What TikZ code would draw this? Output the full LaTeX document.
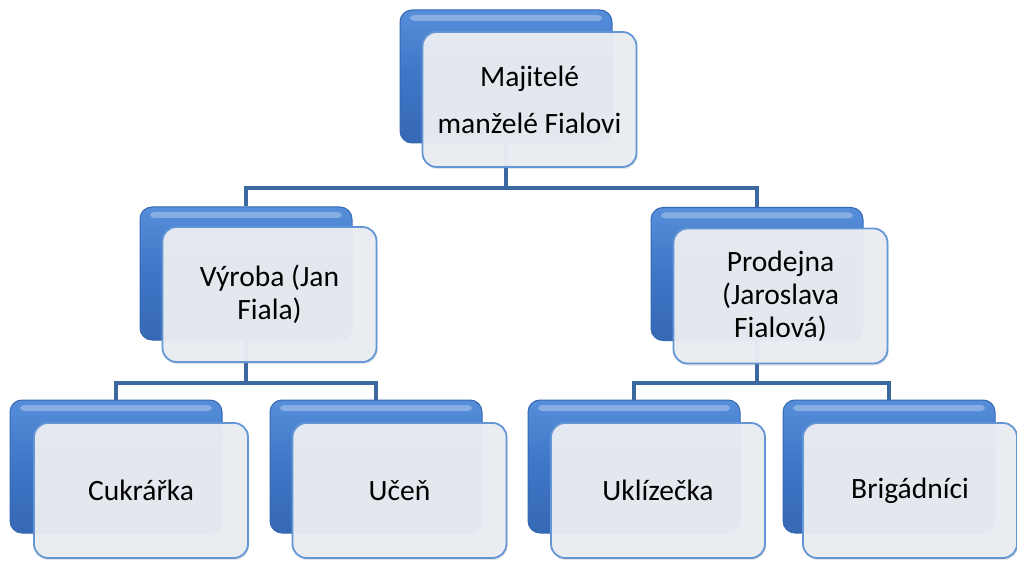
\documentclass[tikz,border=0pt]{standalone}
\usepackage{fontspec}
\setmainfont{Carlito}
\usepackage{tikz}
\usetikzlibrary{positioning, calc, shadows}
\usepackage{xcolor}
\definecolor{boxblue}{RGB}{62, 118, 198}
\definecolor{boxbluetop}{RGB}{86, 142, 218}
\definecolor{boxbluebot}{RGB}{54, 104, 180}
\definecolor{frontfill}{RGB}{234, 237, 242}
\definecolor{frontline}{RGB}{100, 150, 214}
\definecolor{linkblue}{RGB}{60, 104, 160}

\begin{document}
\begin{tikzpicture}[x=1pt, y=-1pt,
    backbox/.style={draw=boxbluebot, line width=1pt, rounded corners=12pt,
        top color=boxbluetop, bottom color=boxbluebot, middle color=boxblue,
        minimum width=212pt, minimum height=133pt,
        path picture={\fill[white, opacity=0.3, rounded corners=4pt]
            ($(path picture bounding box.north west)+(10,5)$) rectangle
            ($(path picture bounding box.north east)+(-10,11)$);}},
    frontbox/.style={draw=frontline, line width=1.8pt, rounded corners=14pt,
        fill=frontfill, fill opacity=0.96, text opacity=1,
        drop shadow={opacity=0.2, shadow xshift=1pt, shadow yshift=-2pt},
        minimum width=214pt, minimum height=135pt, align=center,
        font=\fontsize{29.5}{33}\selectfont},
    link/.style={draw=linkblue, line width=4.5pt}]
                \useasboundingbox[fill=white] (0,0) rectangle (1017,561);
                % Back boxes
                \node[backbox] (ownB) at (506,76.5) {};
                \node[backbox] (vyrB) at (246,273.5) {};
                \node[backbox] (prodB) at (757,274) {};
                \node[backbox] (cukB) at (116,466.5) {};
                \node[backbox] (ucB) at (376,466.5) {};
                \node[backbox] (uklB) at (634,466.5) {};
                \node[backbox] (brigB) at (889,466.5) {};
                % Links
                \coordinate (busTop) at (506,188);
                \coordinate (busVyr) at (246,383);
                \coordinate (busProd) at (757,383);
                \draw[link] (ownB) -- (busTop);
                \draw[link] (busTop) -| (vyrB);
                \draw[link] (busTop) -| (prodB);
                \draw[link] (vyrB.center) -- (busVyr);
                \draw[link] (busVyr) -| (cukB);
                \draw[link] (busVyr) -| (ucB);
                \draw[link] (prodB.center) -- (busProd);
                \draw[link] (busProd) -| (uklB);
                \draw[link] (busProd) -| (brigB);
                % Front boxes
                \node[frontbox] (own) at ($(ownB)+(23.5,23)$) {Majitelé\\[14pt]manželé Fialovi};
                \node[frontbox] (vyr) at ($(vyrB)+(23.5,21)$) {Výroba (Jan\\Fiala)};
                \node[frontbox] (prod) at ($(prodB)+(23.5,22)$) {Prodejna\\(Jaroslava\\Fialová)};
                \node[frontbox] (cuk) at ($(cukB)+(25,24)$) {Cukrářka};
                \node[frontbox] (uc) at ($(ucB)+(23.5,24)$) {Učeň};
                \node[frontbox] (ukl) at ($(uklB)+(24,24)$) {Uklízečka};
                \node[frontbox] (brig) at ($(brigB)+(21,24)$) {Brigádníci};
\end{tikzpicture}
\end{document}
